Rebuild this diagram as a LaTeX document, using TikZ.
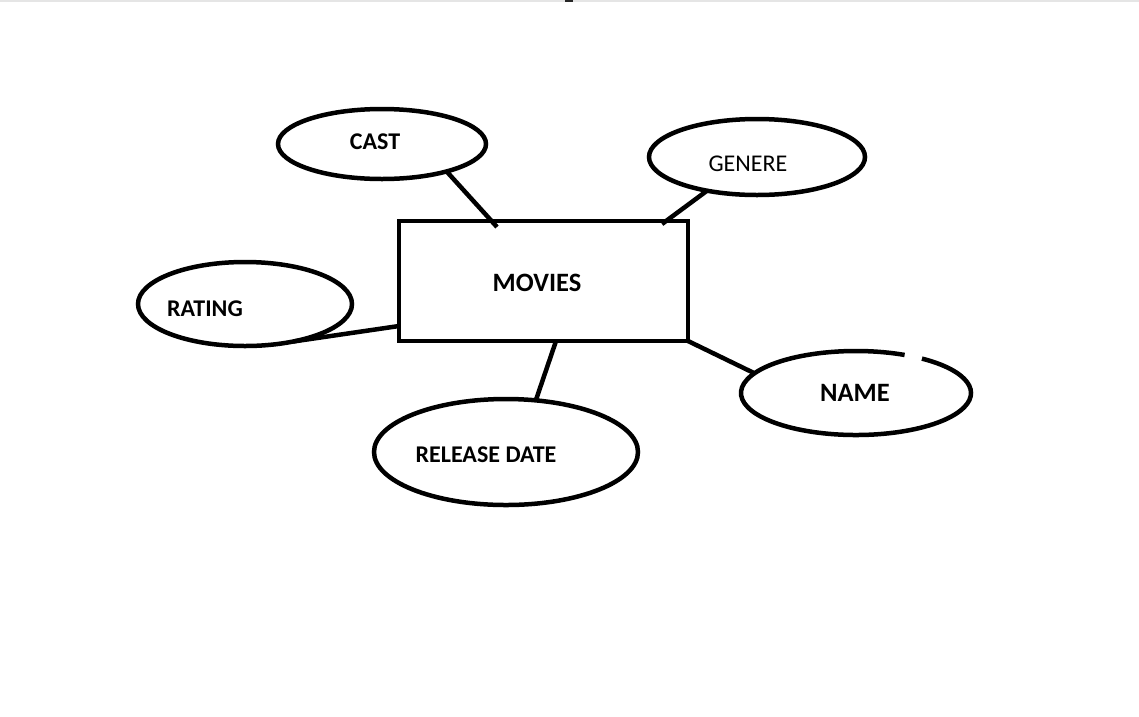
\documentclass[tikz,border=0pt]{standalone}
\usepackage{fontspec}
\setmainfont{Carlito}
\usetikzlibrary{shapes.geometric,calc}
\begin{document}
\begin{tikzpicture}[x=1pt,y=1pt,
  attr/.style={draw=black,line width=4.5pt,ellipse,inner sep=0pt,outer sep=0pt},
  ent/.style={draw=black,line width=4.5pt,rectangle,inner sep=0pt,outer sep=0pt},
  lbl/.style={font=\fontsize{24}{28}\selectfont\bfseries,inner sep=0pt},
  lblr/.style={font=\fontsize{24}{28}\selectfont,inner sep=0pt},
  big/.style={font=\fontsize{26.5}{30}\selectfont\bfseries,inner sep=0pt},
  conn/.style={line width=4.5pt,black}]
\useasboundingbox (0,0) rectangle (1139,-716);
\fill[white] (0,0) rectangle (1139,-716);
\fill[black!10] (0,0) rectangle (1139,-1.5);
\fill[black!85] (565,0) rectangle (573,-2);
% entity
\node[ent,minimum width=289pt,minimum height=120pt] (movies) at (543.5,-281) {};
\node[big] (moviest) at (537,-283) {MOVIES};
% attributes
\node[attr,minimum width=208pt,minimum height=70pt] (cast) at (382,-144) {};
\node[lbl] (castt) at (375,-142) {CAST};
\node[attr,minimum width=216pt,minimum height=76pt] (genere) at (757,-157) {};
\node[lblr] (generet) at (748,-164) {GENERE};
\node[attr,minimum width=214pt,minimum height=84pt] (rating) at (245,-304) {};
\node[lbl] (ratingt) at (205,-309) {RATING};
\node[attr,minimum width=264pt,minimum height=106pt] (release) at (506,-452) {};
\node[lbl] (releaset) at (486,-455) {RELEASE DATE};
\node[attr,draw=none,minimum width=230pt,minimum height=84pt] (name) at (856,-393) {};
\draw[line width=4.5pt] ([shift={(65:115 and 42)}]name.center) arc[start angle=65,end angle=415,x radius=115,y radius=42];
\node[big] (namet) at (855,-393) {NAME};
% connectors
\draw[conn] (cast.-23) -- ($(movies.north west)+(98,-6)$);
\draw[conn] (genere.-146.6) -- ($(movies.north west)+(263,-3)$);
\draw[conn] (rating.-38) -- ($(movies.south west)+(0,15)$);
\draw[conn] (release.60) -- ($(movies.south west)+(157,0)$);
\draw[conn] (name.169) -- (movies.south east);
\end{tikzpicture}
\end{document}
